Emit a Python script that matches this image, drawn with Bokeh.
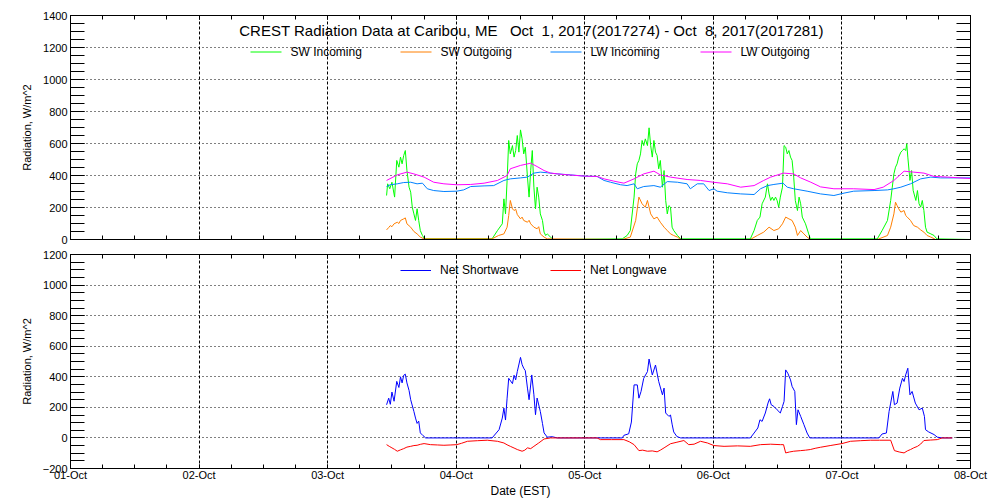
from bokeh.plotting import figure
from bokeh.models import Range1d, LinearAxis, FixedTicker, Label, Legend, LegendItem
from bokeh.layouts import column
from bokeh.embed import file_html
from bokeh.resources import INLINE

FONT = "Liberation Sans"

# ---------------- data (hours since 01-Oct 00:00 EST, W/m^2) ----------------
day_hours = [0, 24, 48, 72, 96, 120, 144, 168]
day_labels = ["01-Oct", "02-Oct", "03-Oct", "04-Oct", "05-Oct", "06-Oct", "07-Oct", "08-Oct"]
six_hours = list(range(0, 169, 6))

top_ticks = list(range(0, 1401, 200))
top_minor = list(range(0, 1401, 50))
bot_ticks = list(range(-200, 1201, 200))
bot_minor = list(range(-200, 1201, 50))

top_names = ["SW Incoming", "SW Outgoing", "LW Incoming", "LW Outgoing"]
top_colors = ["#00ff00", "#ff7f00", "#0080ff", "#ff00ff"]
bot_names = ["Net Shortwave", "Net Longwave"]
bot_colors = ["#0000ff", "#ff0000"]

sw_in_hours = [59.0, 59.2, 59.6, 60.0, 60.5, 60.9, 61.3, 61.6, 61.9, 62.2, 62.5, 62.8, 63.2, 63.5, 63.8, 64.1, 64.4, 64.7, 65.0, 65.3, 65.7, 66.1,
               78.7, 79.7, 80.6, 80.9, 81.2, 81.5, 81.8, 82.1, 82.5, 82.8, 83.1, 83.4, 83.7, 84.0, 84.3, 84.6, 84.9, 85.3, 85.6, 85.9, 86.2, 86.5, 86.8, 87.1, 87.4, 87.7, 88.1, 88.4, 88.7, 89.0, 89.6, 90.1,
               103.0, 103.9, 104.5, 105.2, 105.5, 105.8, 106.1, 106.4, 106.7, 107.0, 107.3, 107.7, 108.0, 108.3, 108.6, 108.9, 109.2, 109.5, 109.8, 110.1, 110.5, 110.8, 111.1, 111.4, 111.7, 112.0, 112.3, 112.6, 113.3, 113.9,
               126.9, 127.6, 128.2, 128.7, 129.1, 129.7, 130.1, 130.4, 130.7, 131.0, 131.3, 131.6, 131.9, 132.2, 132.5, 132.9, 133.2, 133.5, 133.8, 134.1, 134.4, 134.7, 135.0, 135.3, 135.7, 136.0, 136.3, 136.6, 137.2, 137.8, 138.1,
               150.6, 151.5, 152.5, 153.1, 153.4, 153.7, 154.0, 154.3, 154.6, 155.0, 155.3, 155.6, 155.9, 156.1, 156.3, 156.7, 157.0, 157.3, 157.8, 158.1, 158.4, 158.7, 159.0, 159.3, 159.6, 159.9, 160.6, 161.2, 161.7, 168.0]
sw_in_wm2 = [275, 348, 317, 358, 265, 494, 452, 515, 473, 525, 556, 431, 327, 296, 202, 160, 119, 192, 119, 56, 25, 4,
             4, 56, 98, 254, 160, 369, 619, 535, 587, 515, 556, 650, 546, 685, 629, 535, 577, 390, 265, 431, 556, 327, 192, 327, 265, 160, 119, 46, 25, 35, 15, 0,
             4, 25, 56, 265, 410, 473, 494, 535, 619, 587, 629, 587, 698, 587, 515, 619, 546, 525, 442, 494, 327, 431, 244, 160, 212, 202, 77, 56, 25, 4,
             4, 56, 119, 140, 223, 265, 348, 285, 244, 265, 244, 265, 244, 202, 265, 327, 587, 577, 535, 556, 515, 494, 390, 244, 181, 265, 223, 140, 98, 35, 4,
             4, 56, 119, 244, 327, 410, 452, 473, 515, 546, 556, 567, 556, 598, 515, 369, 431, 306, 244, 306, 223, 202, 244, 181, 77, 46, 35, 25, 4, 0]

sw_out_hours = [59.0, 59.4, 59.7, 60.0, 60.4, 61.0, 61.3, 61.6, 62.2, 62.5, 62.8, 63.5, 64.1, 64.7, 65.3, 66.0,
                78.7, 79.9, 80.9, 81.5, 81.8, 82.1, 82.5, 82.8, 83.1, 83.4, 84.0, 84.3, 84.6, 85.3, 85.6, 85.9, 86.5, 87.1, 87.4, 87.7, 88.4, 89.0,
                103.0, 104.5, 105.5, 106.1, 106.7, 107.3, 107.7, 108.3, 108.9, 109.5, 110.1, 110.8, 111.4, 112.0, 112.6, 113.3, 113.9,
                126.9, 128.2, 129.4, 130.4, 131.3, 132.2, 132.9, 133.5, 134.1, 134.7, 135.3, 135.7, 136.3, 136.9, 137.5, 138.1,
                150.6, 152.5, 153.1, 153.7, 154.0, 154.3, 154.6, 155.0, 155.6, 155.9, 156.2, 156.8, 157.4, 158.1, 158.7, 159.3, 159.9, 160.6, 161.5, 168.0]
sw_out_wm2 = [60, 75, 87, 80, 98, 108, 100, 119, 129, 135, 98, 77, 50, 35, 15, 4,
              4, 25, 35, 77, 150, 244, 192, 181, 190, 156, 129, 140, 119, 108, 120, 98, 77, 67, 80, 35, 15, 4,
              0, 15, 119, 265, 223, 202, 244, 160, 129, 140, 108, 77, 56, 35, 25, 15, 0,
              0, 25, 46, 77, 56, 67, 98, 140, 129, 119, 77, 25, 56, 35, 15, 0,
              0, 25, 77, 160, 233, 212, 192, 171, 181, 150, 140, 119, 87, 77, 60, 46, 25, 15, 0, 0]

lw_in_hours = [59.0, 59.7, 61.0, 62.2, 63.5, 64.7, 65.7, 66.6, 67.8, 69.7, 72.1, 73.4, 74.7, 77.2, 79.0, 80.9, 82.1, 84.0, 85.3, 86.5,
               87.7, 89.0, 90.9, 93.3, 96.0, 98.3, 99.6, 100.8, 102.7, 103.9, 105.2, 105.8, 107.0, 108.9, 110.1, 111.4, 113.3, 115.1, 115.7, 117.0,
               118.2, 119.2, 120.1, 120.7, 122.6, 125.1, 127.6, 128.8, 130.1, 131.3, 133.0, 133.8, 135.0, 137.5, 140.0, 142.5, 144.4, 146.2, 150.0, 152.5,
               153.7, 155.0, 156.8, 158.7, 160.6, 162.4, 164.9, 168.0]
lw_in_wm2 = [331, 342, 348, 356, 358, 348, 352, 317, 306, 300, 302, 310, 331, 335, 337, 369, 379, 385, 390, 415,
             421, 417, 410, 404, 396, 394, 369, 358, 342, 337, 348, 317, 331, 337, 327, 362, 358, 348, 317, 348,
             348, 306, 317, 302, 292, 285, 281, 317, 337, 344, 352, 327, 317, 302, 285, 275, 290, 302, 306, 310,
             317, 327, 348, 379, 390, 385, 385, 385]

lw_out_hours = [59.0, 61.0, 62.8, 64.1, 66.0, 67.8, 69.7, 72.1, 74.7, 77.2, 79.7, 81.5, 82.1, 84.0, 85.9, 87.1, 88.4, 89.6, 92.1, 96.0,
                98.3, 99.6, 101.4, 103.3, 105.2, 107.0, 108.9, 110.1, 112.0, 115.1, 117.6, 120.0, 122.6, 125.1, 127.6, 129.4, 130.7, 133.1, 135.0, 136.3,
                138.2, 140.0, 142.5, 146.2, 150.0, 151.7, 153.7, 155.6, 157.4, 159.3, 161.2, 163.7, 168.0]
lw_out_wm2 = [369, 404, 421, 410, 390, 358, 348, 342, 344, 352, 369, 400, 442, 463, 477, 456, 431, 415, 406, 396,
              394, 379, 365, 352, 379, 410, 427, 404, 390, 375, 369, 358, 348, 327, 337, 369, 390, 415, 410, 385,
              358, 329, 317, 317, 312, 327, 369, 427, 421, 415, 394, 390, 381]

net_sw_hours = [59.0, 59.4, 59.7, 60.0, 60.4, 60.9, 61.3, 61.6, 61.9, 62.2, 62.5, 62.8, 63.2, 63.5, 64.1, 64.4, 64.7, 65.0, 65.3, 65.8, 66.3,
                78.7, 80.0, 80.6, 80.9, 81.2, 81.5, 81.8, 82.5, 82.8, 83.1, 83.4, 84.0, 84.3, 84.6, 84.9, 85.3, 85.6, 86.1, 86.5, 86.8, 87.1, 87.7, 88.1, 88.4, 89.0, 89.9, 90.9,
                103.0, 103.3, 104.2, 104.7, 105.2, 105.8, 106.1, 106.5, 107.0, 107.7, 108.0, 108.6, 109.2, 109.8, 110.5, 110.8, 111.1, 111.7, 112.0, 112.3, 112.6, 113.2, 113.9,
                126.9, 127.6, 128.3, 128.7, 129.1, 129.7, 130.2, 130.5, 130.8, 131.3, 131.9, 132.5, 132.9, 133.2, 133.5, 133.9, 134.4, 134.7, 135.2, 135.5, 135.8, 136.3, 136.9, 137.5, 138.0,
                150.9, 151.5, 152.3, 152.8, 153.1, 153.5, 153.8, 154.3, 154.8, 155.3, 155.6, 155.9, 156.3, 156.7, 157.1, 157.7, 158.4, 159.0, 159.4, 159.6, 160.2, 161.2, 161.8, 162.7, 164.6]
net_sw_wm2 = [217, 260, 220, 300, 240, 370, 330, 400, 360, 410, 417, 360, 310, 250, 173, 130, 95, 110, 33, 15, 0,
              0, 54, 130, 195, 117, 260, 390, 355, 410, 380, 434, 527, 480, 456, 440, 326, 250, 412, 282, 152, 261, 173, 95, 33, 5, 8, 0,
              0, 17, 27, 104, 347, 347, 260, 304, 390, 434, 516, 412, 477, 369, 282, 326, 163, 141, 150, 90, 39, 9, 0,
              0, 32, 65, 119, 108, 163, 228, 256, 217, 206, 184, 163, 206, 239, 445, 423, 380, 337, 304, 87, 184, 141, 87, 32, 0,
              0, 26, 32, 173, 228, 304, 217, 228, 326, 390, 369, 412, 456, 282, 304, 228, 184, 195, 141, 54, 39, 22, 5, 0, 0]

net_lw_hours = [59.0, 59.5, 60.0, 60.5, 61.0, 61.6, 62.2, 62.8, 63.5, 64.1, 64.7, 65.3, 66.0, 67.2, 68.5, 69.7, 71.0, 72.1, 73.0, 74.1,
                76.0, 77.8, 79.7, 80.9, 81.5, 82.1, 82.8, 83.4, 84.3, 84.8, 85.3, 85.9, 86.5, 87.4, 88.4, 89.6, 92.0, 95.0, 98.3, 98.9,
                101.0, 103.3, 104.3, 105.2, 106.1, 106.8, 107.7, 108.6, 109.5, 110.1, 110.8, 112.0, 113.2, 114.5, 115.4, 116.4, 117.6, 118.9, 120.1, 122.0,
                124.5, 126.9, 128.8, 130.7, 132.5, 133.1, 133.5, 134.2, 135.0, 136.3, 137.2, 138.1, 139.0, 140.0, 141.8, 144.0, 145.6, 147.5, 149.3, 151.0,
                153.1, 153.8, 154.7, 155.6, 156.2, 156.8, 157.4, 158.1, 158.7, 159.3, 160.5, 161.8, 162.7, 164.6]
net_lw_wm2 = [-44, -55, -65, -75, -87, -78, -70, -60, -55, -50, -48, -42, -37, -44, -46, -48, -46, -44, -35, -22,
              -18, -15, -22, -33, -45, -55, -66, -76, -87, -80, -65, -70, -55, -33, -7, 0, 0, 0, 0, -11,
              -11, -11, -25, -44, -83, -80, -87, -85, -91, -80, -65, -38, -28, -17, -44, -41, -22, -33, -50, -55,
              -52, -55, -44, -41, -44, -44, -98, -92, -87, -83, -80, -76, -68, -61, -50, -37, -22, -18, -15, -15,
              -15, -83, -92, -98, -85, -76, -65, -55, -40, -17, -14, -11, 0, 0]

for a, b in [(sw_in_hours, sw_in_wm2), (sw_out_hours, sw_out_wm2), (lw_in_hours, lw_in_wm2),
             (lw_out_hours, lw_out_wm2), (net_sw_hours, net_sw_wm2), (net_lw_hours, net_lw_wm2)]:
    assert len(a) == len(b), (len(a), len(b))

title_text = "CREST Radiation Data at Caribou, ME\u00a0\u00a0 Oct\u00a0 1, 2017(2017274) - Oct\u00a0 8, 2017(2017281)"
y_label = "Radiation, W/m^2"

# layout constants (pixels)
FRAME_LEFT, FRAME_W = 70, 900
PX_PER_HOUR = FRAME_W / 168.0


# ---------------- helpers ----------------
def make_fig(y0, y1, yt, ym, height, top, bottom, show_x_labels):
    p = figure(width=1000, height=height, x_range=Range1d(0, 168), y_range=Range1d(y0, y1),
               output_backend="svg", toolbar_location=None,
               min_border_left=FRAME_LEFT, min_border_right=30, min_border_top=top, min_border_bottom=bottom,
               background_fill_color="white", border_fill_color="white",
               outline_line_color="black")
    p.add_layout(LinearAxis(), "above")
    p.add_layout(LinearAxis(), "right")
    xt = FixedTicker(ticks=day_hours, minor_ticks=six_hours)
    ytk = FixedTicker(ticks=yt, minor_ticks=ym)
    for ax in p.xaxis:
        ax.ticker = xt
        ax.major_tick_in = 4
        ax.major_tick_out = 0
        ax.minor_tick_in = 4
        ax.minor_tick_out = 0
    for ax in p.yaxis:
        ax.ticker = ytk
        ax.major_tick_in = 14
        ax.major_tick_out = 0
        ax.minor_tick_in = 14
        ax.minor_tick_out = 0
    for ax in p.axis:
        ax.axis_line_color = "black"
        ax.major_tick_line_color = "black"
        ax.minor_tick_line_color = "black"
        ax.major_label_text_font = FONT
        ax.major_label_text_color = "black"
        ax.axis_label_text_font = FONT
        ax.axis_label_text_font_style = "normal"
        ax.axis_label_text_color = "black"
    # axes that show ticks only
    hidden = [p.above[0], p.right[0]]
    if not show_x_labels:
        hidden.append(p.below[0])
    for ax in hidden:
        ax.major_label_text_font_size = "0px"
        ax.major_label_text_color = None
        ax.major_label_standoff = 0
    left = p.left[0]
    left.major_label_text_font_size = "11px"
    left.major_label_standoff = 3
    left.axis_label = y_label
    left.axis_label_text_font_size = "11px"
    left.axis_label_standoff = 7
    if show_x_labels:
        b = p.below[0]
        b.major_label_overrides = dict(zip(day_hours, day_labels))
        b.major_label_text_font_size = "11px"
        b.major_label_standoff = 0
        b.axis_label = "Date (EST)"
        b.axis_label_text_font_size = "12px"
        b.axis_label_standoff = 0
    p.xgrid.grid_line_color = "black"
    p.xgrid.grid_line_dash = "3 2"
    p.xgrid.grid_line_width = 1
    p.ygrid.grid_line_color = "black"
    p.ygrid.grid_line_dash = "1 3"
    p.ygrid.grid_line_width = 1
    return p


def add_legend(p, label, renderer, x, y):
    lg = Legend(items=[LegendItem(label=label, renderers=[renderer])], orientation="horizontal",
                location=(x, y), border_line_color=None, background_fill_alpha=0,
                padding=0, margin=0, spacing=0,
                glyph_width=31, glyph_height=14, label_standoff=9, label_width=110, label_height=14,
                label_text_font=FONT, label_text_font_size="12px", label_text_color="black")
    p.add_layout(lg)


# ---------------- top panel ----------------
p1 = make_fig(0, 1400, top_ticks, top_minor, 247, 15, 8, False)
p1.line(sw_in_hours, sw_in_wm2, line_color=top_colors[0], line_width=1)
p1.line(sw_out_hours, sw_out_wm2, line_color=top_colors[1], line_width=1)
p1.line(lw_in_hours, lw_in_wm2, line_color=top_colors[2], line_width=1)
p1.line(lw_out_hours, lw_out_wm2, line_color=top_colors[3], line_width=1)

# key row of the top panel (short strokes + labels inside the frame), placed on a pixel centre
key_y = (239 - 51.5) / 0.16
for i, (name, col) in enumerate(zip(top_names, top_colors)):
    gx0 = (250 + 150 * i - FRAME_LEFT) / PX_PER_HOUR
    gx1 = gx0 + 31 / PX_PER_HOUR
    p1.segment(x0=[gx0], y0=[key_y], x1=[gx1], y1=[key_y], line_color=col, line_width=1)
    p1.add_layout(Label(x=gx1 + 9 / PX_PER_HOUR, y=key_y, text=name, text_align="left",
                        text_baseline="middle", text_font=FONT, text_font_size="12px",
                        text_color="black"))

p1.add_layout(Label(x=86.05, y=1306, text=title_text, text_align="center", text_baseline="middle",
                    text_font=FONT, text_font_size="15px", text_color="black"))

# ---------------- bottom panel ----------------
p2 = make_fig(-200, 1200, bot_ticks, bot_minor, 253, 7, 31, True)
r_nsw = p2.line(net_sw_hours, net_sw_wm2, line_color=bot_colors[0], line_width=1)
r_nlw = p2.line(net_lw_hours, net_lw_wm2, line_color=bot_colors[1], line_width=1)
for i, (lab, r) in enumerate(zip(bot_names, [r_nsw, r_nlw])):
    add_legend(p2, lab, r, 330 + 150 * i, 191)

layout = column(p1, p2, spacing=0)
open("out.html", "w").write(file_html(layout, INLINE))
